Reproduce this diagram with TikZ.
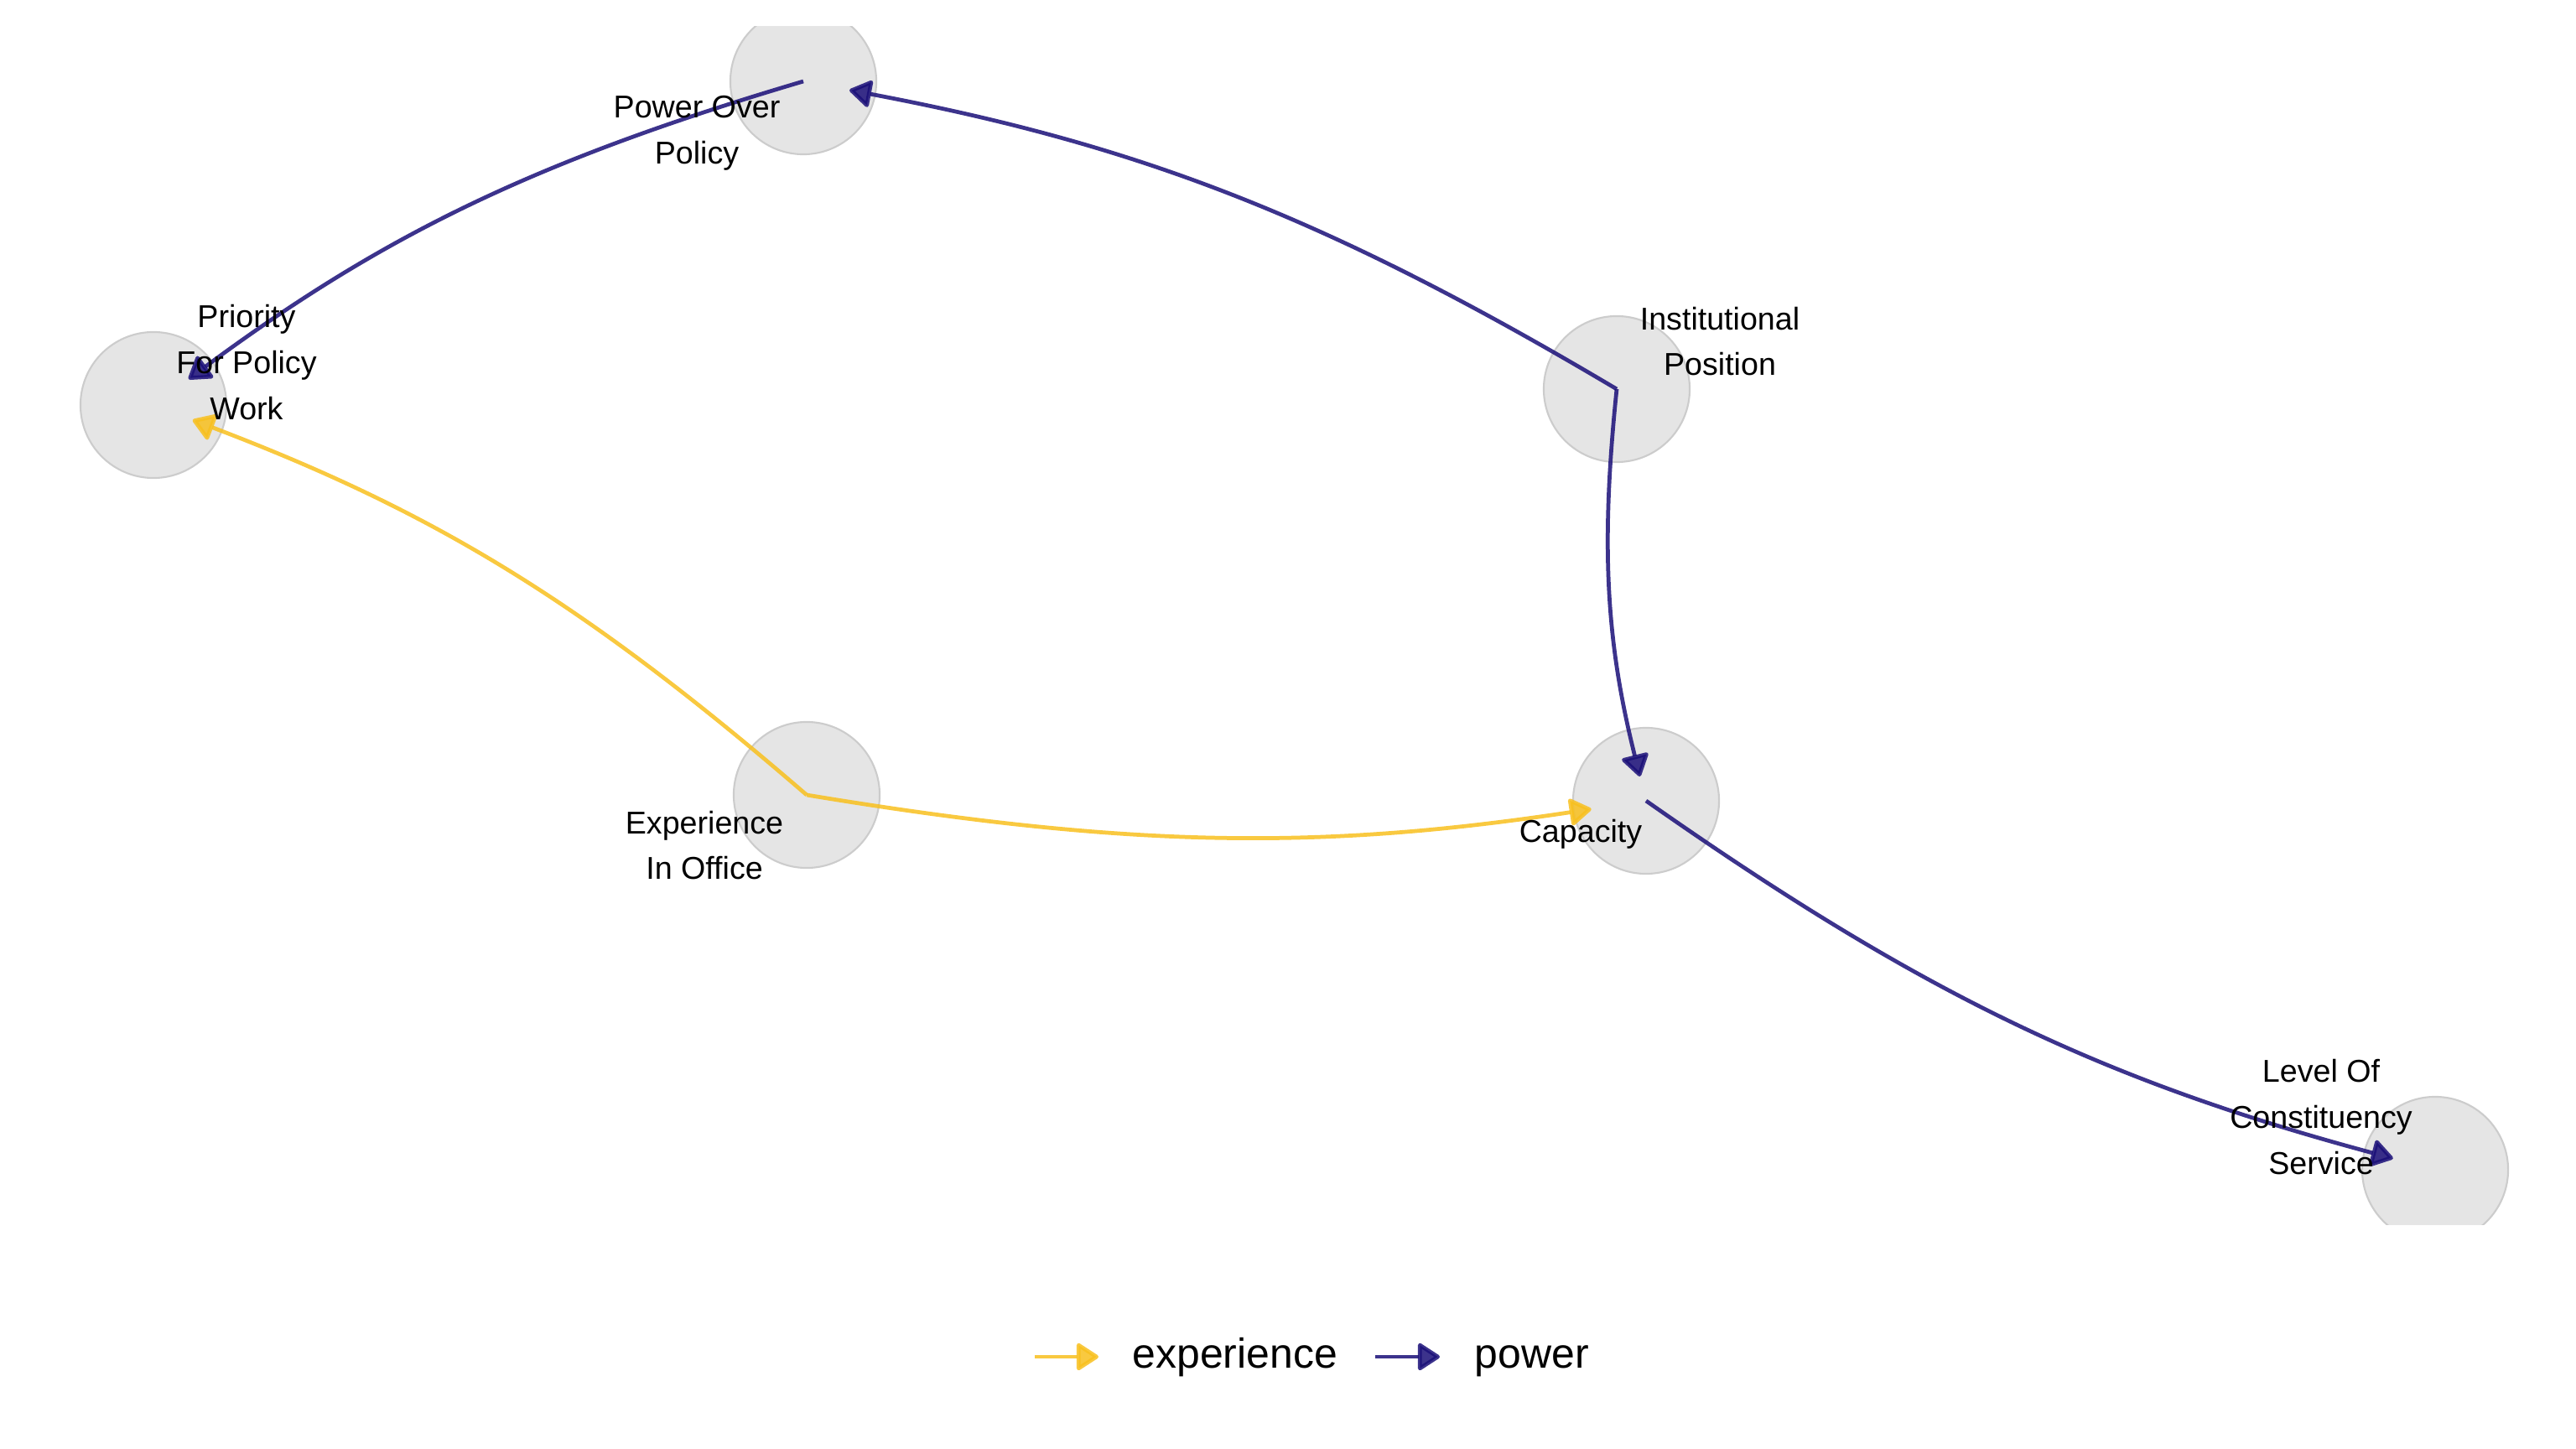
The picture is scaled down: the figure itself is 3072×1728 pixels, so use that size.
\documentclass[tikz,border=0pt]{standalone}
\usepackage{fontspec}
\setmainfont{Liberation Sans}
\usetikzlibrary{arrows.meta}

\definecolor{powercol}{RGB}{26,15,120}
\definecolor{expcol}{RGB}{248,192,30}

\begin{document}
\begin{tikzpicture}[x=0.01cm, y=-0.01cm,
		var/.style={circle, fill=black!10, draw=black!20, line width=0.6pt, minimum size=1.74cm, inner sep=0pt},
		lab/.style={align=center, font=\fontsize{10.7}{15.6}\selectfont, inner sep=0pt},
		link/.style={line width=1.35pt, opacity=0.85, -{Triangle[length=8pt,width=10pt,round]}},
		power/.style={link, draw=powercol},
		exper/.style={link, draw=expcol},
		key/.style={font=\fontsize{14.2}{17}\selectfont, inner sep=0pt, anchor=base west}]
		\useasboundingbox (0,0) rectangle (3072,1728);
		\begin{scope}
		\clip (0,32) rectangle (3072,1460);
		\node[var] (pop) at (958,97) {};
		\node[var] (prio) at (183,483) {};
		\node[var] (inst) at (1928,464) {};
		\node[var] (cap) at (1963,955) {};
		\node[var] (exp) at (962,948) {};
		\node[var] (lev) at (2904,1395) {};
		\end{scope}
		\draw[power, shorten >=0.52cm] (pop.center) to[bend right=10] (prio.center);
		\draw[power, shorten >=0.56cm] (inst.center) to[bend right=10] (pop.center);
		\draw[power, shorten >=0.30cm] (inst.center) to[bend right=10] (cap.center);
		\draw[power, shorten >=0.52cm] (cap.center) to[bend right=10] (lev.center);
		\draw[exper, shorten >=0.50cm] (exp.center) to[bend right=10] (prio.center);
		\draw[exper, shorten >=0.66cm] (exp.center) to[bend right=9] (cap.center);
		\node[lab] (poplab) at (831,159) {Power Over\\Policy};
		\node[lab] (priolab) at (294,432) {Priority\\For Policy\\Work};
		\node[lab] (instlab) at (2051,407) {Institutional\\Position};
		\node[lab] (caplab) at (1885,995) {Capacity};
		\node[lab] (explab) at (840,1008) {Experience\\In Office};
		\node[lab] (levlab) at (2768,1332) {Level Of\\Constituency\\Service};
		% legend
		\coordinate (k1) at (1234,1618);
		\coordinate (k2) at (1640,1618);
		\node[key] (expkey) at (1350,1631) {experience};
		\node[key] (powkey) at (1758,1631) {power};
		\draw[exper] (k1) -- ++(76,0);
		\draw[power] (k2) -- ++(77,0);
\end{tikzpicture}
\end{document}
